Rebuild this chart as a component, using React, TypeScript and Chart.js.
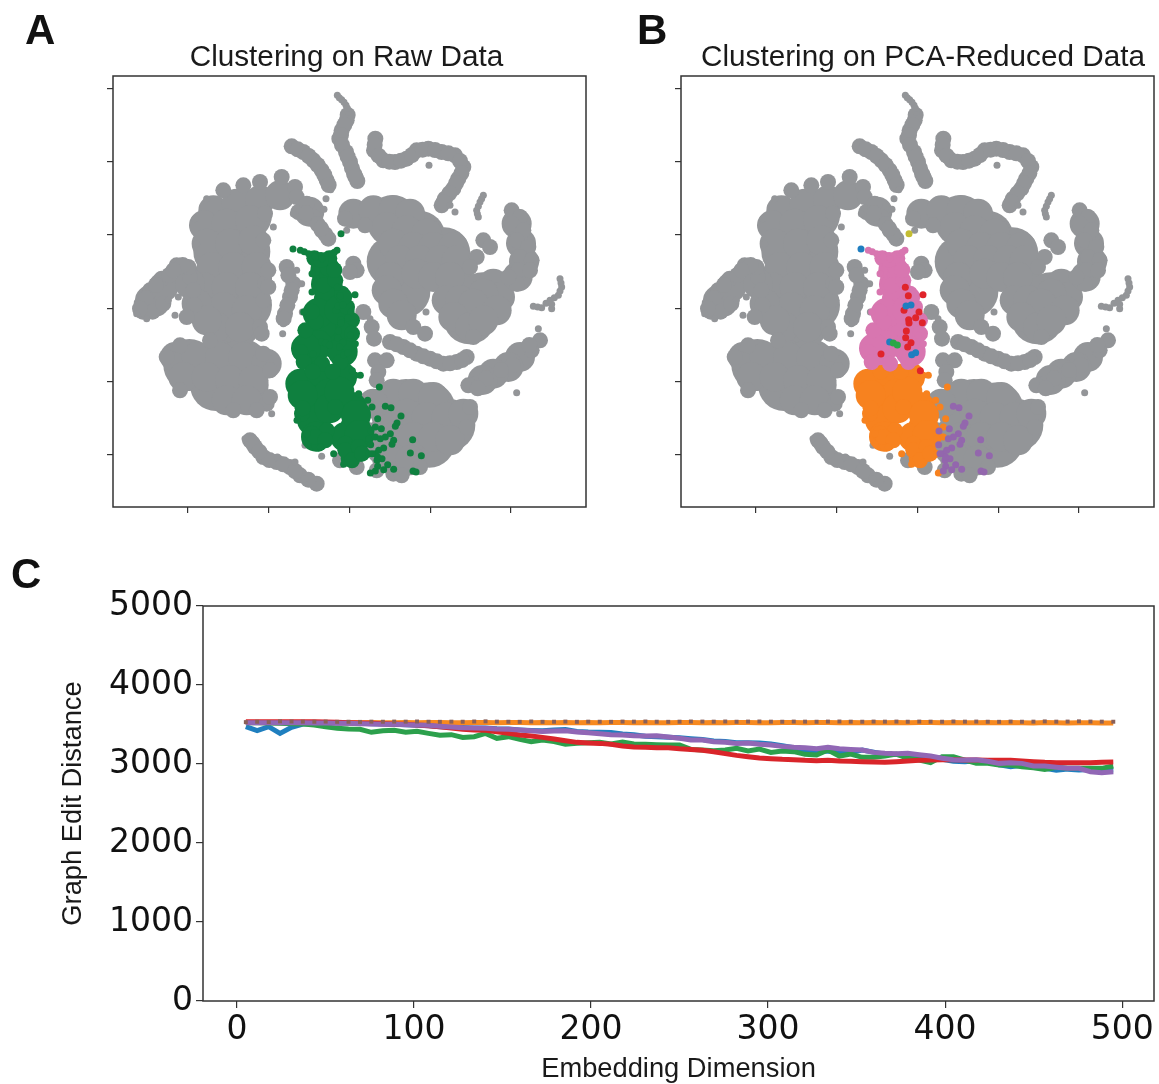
import React, { useEffect, useRef } from "react";
import { Chart, registerables } from "chart.js";

Chart.register(...registerables);

type P = [number, number];

// t-SNE embedding (arbitrary units; the axes have no tick labels)
const GREY_XLARGE: P[] = [
  [-310,280],[-380,250],[-390,170],[-315,170],[-390,90],[-310,90],[-385,10],[-310,10],[-340,-40],
  [-480,-170],[-400,-170],[-320,-170],[-400,-230],[-320,-230],
  [130,262],[210,215],[285,165],[205,140],[130,140],[170,90],[165,50],
  [340,30],[400,30],[360,-30],
  [170,-290],[240,-300],[170,-400],[240,-400],[300,-350],[120,-400],
];
const GREY_LARGE: P[] = [
  [12,284],[72,294],[132,294],[182,284],[112,244],[172,234],[232,224],[132,194],[192,184],[252,184],[312,184],
  [152,144],[212,144],[272,144],[322,144],[122,94],[112,54],[132,14],[157,-21],[202,104],[252,94],[302,94],
  [292,24],[432,74],[452,34],[402,44],[332,24],[372,14],[442,-6],[312,-26],[362,-56],[402,-36],
  [132,-256],[192,-256],[252,-266],[112,-326],[172,-316],[232,-326],[292,-326],[342,-316],[132,-386],[192,-386],
  [252,-386],[302,-396],[112,-446],[182,-456],[52,-386],[72,-286],
  [-408,294],[-338,314],[-268,324],[-208,339],[-436,249],[-368,254],[-298,264],[-428,194],[-358,194],[-288,204],
  [-413,124],[-348,124],[-278,124],[-438,64],[-368,64],[-298,64],[-448,4],[-378,4],[-308,-6],[-398,-56],[-328,-56],
  [-583,19],[-598,24],[-558,64],[-478,74],[-458,14],[-428,-36],
  [-523,-146],[-458,-146],[-388,-146],[-318,-146],[-248,-166],[-498,-206],[-428,-206],[-358,-216],[-288,-216],
  [-368,-276],[-308,-276],
  [512,-146],[477,-176],[432,-196],[400,-215],
  [502,254],[515,195],[524,140],[505,95],
  [-120,290],
];
const GREY_MEDIUM: P[] = [
  [-8,564],[-23,534],[-30,509],[-10,469],[2,439],[14,404],[24,382],
  [-5,580],[-15,550],[-25,520],[-22,490],[-5,455],[8,420],[18,395],
  [-173,486],[-138,469],[-108,444],[-83,414],[-68,384],
  [-155,477],[-122,457],[-95,430],[-75,400],[-62,370],
  [78,509],[74,474],[102,444],[137,439],[172,449],[202,474],[237,479],[277,469],[317,459],[342,424],[327,389],
  [312,359],[287,329],[277,309],
  [76,490],[88,458],[120,440],[155,443],[188,460],[220,476],[257,475],[297,465],[332,442],[336,405],[320,375],[300,345],[282,318],
  [487,294],[512,274],[487,254],[522,234],[502,204],[537,184],[512,154],[547,144],[507,114],[542,114],[502,74],[477,94],
  [572,-96],[547,-126],[382,-226],[357,-231],[540,-110],[490,-170],[455,-185],[410,-210],[385,-240],
  [-13,269],[47,249],[402,204],[422,184],[382,154],[362,124],[192,-56],[227,-76],[372,-86],
  [12,134],[22,114],[2,109],[42,-11],[67,-56],[74,-91],
  [122,-101],[162,-116],[202,-136],[242,-151],[282,-166],[322,-161],[352,-146],
  [142,-108],[182,-126],[222,-144],[262,-159],[302,-165],[338,-155],
  [77,-156],[112,-156],[87,-191],[82,-216],
  [352,-356],[362,-296],[212,-476],[132,-496],[157,-501],[-28,-456],[22,-476],[82,-486],
  [-478,94],[-468,54],[-483,124],[-518,129],[-563,89],[-598,54],[-623,14],
  [-610,30],[-580,70],[-540,100],[-500,130],[-620,-10],[-590,-10],[-465,10],[-628,-1],[-528,114],[-558,14],
  [-378,354],[-318,369],[-268,379],[-203,394],[-163,364],[-158,334],[-253,284],[-253,74],[-258,24],[-268,-56],
  [-243,114],[-243,64],[-258,204],[-488,-26],
  [-153,289],[-128,314],[-108,274],[-83,234],[-63,209],[-130,285],[-95,252],[-72,222],[-85,240],
  [-188,124],[-168,74],[-178,34],[-193,-16],[-183,99],[-173,54],[-186,9],[-197,-31],
  [-258,-136],[-263,-76],[-238,-186],[-248,-286],[-508,-246],[-238,-266],[-278,-306],[-348,-306],[-548,-146],[-418,-96],[-508,-111],
  [-298,-396],[-283,-416],[-258,-446],[-218,-461],[-178,-476],[-148,-501],[-98,-526],
  [-240,-455],[-198,-468],[-163,-488],[-123,-514],[-290,-405],[-270,-430],
];
const GREY_SMALL: P[] = [
  [-36,639],[-23,626],[-10,609],[-3,589],[-56,356],[-70,329],[-76,297],[-30,632],[-16,618],[-6,600],
  [302,309],[317,289],[239,429],[402,339],[392,319],[382,294],[387,274],[397,329],[387,306],[384,284],
  [632,89],[637,64],[627,39],[602,24],[607,-1],[577,2],[552,6],[567,-61],[502,-253],
  [635,76],[632,52],[615,32],[590,15],[565,4],[607,12],
  [-8,234],[230,-11],[62,-31],
  [-428,329],[-463,269],[-458,194],[-228,244],[-638,-16],[-608,-31],[-543,24],[-523,-21],[-513,34],[-168,284],
  [-158,114],[-200,-76],[-198,-46],[-143,74],[-141,-11],[-233,-316],
  [-313,-391],[-216,-446],[-163,-461],[-133,-511],[-83,-444],[-133,-411],
];

const PINK_LARGE: P[] = [
  [-62,24],[-72,-36],[-32,-46],[-92,-96],[-42,-106],[-112,-126],[-70,72],[-52,-30],[-85,-55],[-95,-110],[-130,-120],[-20,-130],
  [-72,114],[-65,65],[-95,-15],[-30,-5],
];
const PINK_MEDIUM: P[] = [
  [-67,139],[-67,99],[-77,69],[-42,84],[-22,44],[-7,4],[8,-36],[-2,-106],[-132,-66],[-147,-131],[-137,-161],[-82,-166],[-27,-161],
  [-65,120],[-60,150],[-45,115],[-105,150],[-85,145],[-100,-40],[-112,-10],[-17,-66],[8,-76],[-15,35],
];
const PINK_SMALL: P[] = [
  [-147,174],[-122,164],[-102,154],[-82,149],[-37,174],[-52,164],[-112,104],[-112,49],[-137,-11],[3,-81],[18,-106],
  [-135,170],[-45,168],
];
const ORANGE_LARGE: P[] = [
  [-147,-226],[-82,-206],[-22,-206],[-102,-276],[-62,-256],[8,-296],[18,-356],[-12,-386],[-112,-336],
  [-140,-260],[-60,-300],[-30,-250],[20,-320],[30,-380],[-100,-385],
];
const ORANGE_MEDIUM: P[] = [
  [-112,-376],[-92,-406],[-67,-366],[-42,-296],[-142,-316],[-12,-406],[-2,-451],[33,-436],[-140,-300],[-110,-190],[-50,-190],
  [-102,-386],[-72,-396],[-12,-426],[28,-416],[8,-456],[38,-436],
];
const ORANGE_SMALL: P[] = [
  [-157,-336],[-127,-376],[58,-436],[-47,-436],[-17,-468],[63,-494],[90,-236],[33,-201],[68,-296],[55,-276],
  [85,-331],[78,-356],[58,-391],[78,-386],[28,-256],[-87,-416],[18,-201],
];
const PURPLE_POINTS: P[] = [
  [108,-294],[125,-298],[155,-323],[143,-344],[138,-354],[96,-361],[65,-368],[123,-376],[108,-386],[93,-391],
  [133,-396],[128,-408],[64,-409],[103,-419],[190,-394],[183,-434],[216,-442],[78,-436],[88,-426],[98,-451],
  [83,-456],[115,-469],[85,-474],[78,-488],[103,-484],[133,-483],[191,-488],[200,-491],[85,-446],[68,-436],
];
const RED_POINTS: P[] = [
  [-36,63],[-27,38],[17,41],[-40,-6],[5,-11],[-5,-28],[-26,-34],[-25,-44],[15,-43],[-33,-68],[-35,-88],[-19,-103],
  [-29,-116],[-109,-137],[9,-187],
];
const BLUE_POINTS: P[] = [[-169,178],[-34,7],[-19,10],[-83,-101],[-17,-139],[-5,-133]];
const GREEN_POINTS: P[] = [[-72,-104],[-60,-110]];
const OLIVE_POINTS: P[] = [[-25,224]];

// Panel C
const DIMENSIONS = [
  5,11.4,17.9,24.3,30.8,37.2,43.7,50.1,56.6,63,69.5,75.9,82.4,88.8,95.3,101.7,108.2,114.6,121.1,127.5,134,140.4,
  146.8,153.3,159.7,166.2,172.6,179.1,185.5,192,198.4,204.9,211.3,217.8,224.2,230.7,237.1,243.6,250,256.4,262.9,
  269.3,275.8,282.2,288.7,295.1,301.6,308,314.5,320.9,327.4,333.8,340.3,346.7,353.2,359.6,366,372.5,378.9,385.4,
  391.8,398.3,404.7,411.2,417.6,424.1,430.5,437,443.4,449.9,456.3,462.8,469.2,475.6,482.1,488.5,495,
];
const SERIES_BLUE = [
  3472,3422,3472,3388,3464,3506,3515,3519,3519,3519,3515,3510,3506,3502,3498,3490,3485,3473,3465,3462,3456,3455,
  3445,3442,3432,3425,3420,3430,3438,3412,3405,3402,3398,3380,3370,3350,3345,3340,3332,3320,3310,3290,3285,3270,
  3270,3265,3252,3230,3205,3170,3165,3160,3155,3145,3178,3150,3125,3120,3110,3100,3090,3060,3035,3030,3040,3028,
  2990,2965,2985,2965,2945,2920,2935,2925,2930,2925,2925,
];
const SERIES_ORANGE = [
  3525,3524,3526,3523,3525,3522,3524,3526,3523,3525,3522,3524,3521,3523,3525,3522,3524,3526,3523,3521,3524,3525,
  3522,3524,3526,3523,3525,3521,3524,3522,3525,3523,3526,3524,3522,3525,3523,3521,3524,3526,3523,3525,3522,3524,
  3526,3523,3521,3524,3525,3522,3524,3526,3523,3525,3521,3524,3522,3525,3523,3526,3524,3522,3525,3523,3521,3524,
  3522,3525,3523,3520,3524,3522,3519,3523,3521,3520,3518,
];
const SERIES_GREEN = [
  3523,3523,3519,3515,3510,3506,3494,3472,3451,3443,3439,3401,3422,3426,3401,3413,3388,3363,3371,3337,3346,3388,
  3325,3346,3312,3283,3304,3283,3249,3261,3270,3274,3253,3278,3253,3249,3245,3240,3240,3185,3177,3169,3177,3198,
  3164,3190,3147,3164,3156,3122,3114,3177,3101,3126,3084,3084,3101,3126,3072,3050,3017,3093,3093,3050,3008,3008,
  2987,2987,2966,2953,2932,2958,2945,2945,2945,2945,2975,
];
const SERIES_RED = [
  3536,3536,3536,3536,3536,3536,3536,3531,3527,3523,3519,3515,3510,3506,3502,3494,3485,3472,3456,3439,3430,3426,
  3409,3388,3367,3354,3337,3316,3295,3274,3266,3261,3249,3228,3215,3211,3207,3207,3194,3185,3173,3156,3131,3109,
  3093,3076,3067,3059,3055,3046,3042,3046,3038,3034,3029,3025,3021,3029,3038,3046,3050,3055,3055,3050,3050,3046,
  3046,3046,3038,3029,3021,3017,3017,3017,3017,3021,3025,
];
const SERIES_PURPLE = [
  3523,3523,3523,3523,3523,3523,3519,3519,3515,3515,3510,3506,3502,3502,3498,3494,3489,3477,3468,3460,3456,3451,
  3443,3439,3430,3422,3413,3418,3422,3405,3396,3384,3371,3367,3358,3354,3358,3342,3325,3304,3304,3283,3274,3261,
  3266,3249,3240,3223,3211,3207,3194,3211,3194,3185,3177,3147,3135,3131,3135,3118,3101,3072,3055,3050,3055,3034,
  3008,3017,3008,2974,2974,2958,2945,2945,2903,2890,2903,
];
const SERIES_BROWN = [
  3530,3535,3531,3540,3538,3536,3535,3537,3534,3535,3533,3536,3535,3537,3536,3538,3535,3534,3536,3535,3538,3540,
  3536,3535,3534,3538,3534,3535,3537,3534,3536,3535,3534,3537,3536,3538,3535,3534,3536,3538,3537,3536,3538,3535,
  3537,3538,3536,3535,3537,3536,3535,3537,3538,3536,3535,3537,3536,3537,3535,3537,3536,3535,3538,3536,3537,3535,
  3534,3537,3535,3536,3539,3536,3537,3540,3537,3536,3535,
];

const SCATTER_X_TICKS = [-484, -242, 0, 243, 485];
const SCATTER_Y_TICKS = [-440, -220, 0, 220, 439, 658];
const LINE_X_TICKS = [0, 100, 200, 300, 400, 500];
const LINE_Y_TICKS = [0, 1000, 2000, 3000, 4000, 5000];

const GREY = "#939598";
const DARK_GREEN = "#0f803f";
const PINK = "#d876b0";
const ORANGE = "#f7821f";
const PURPLE = "#9367ad";
const RED = "#e0242b";
const BLUE = "#1f7ec0";
const GREEN = "#2aa745";
const OLIVE = "#c4bd32";
const FRAME = "#333333";
const SMALL = 3.5, MEDIUM = 8, LARGE = 15, XLARGE = 26;

const framePlugin = {
  id: "frame",
  afterDraw(chart: any) {
    const { ctx, chartArea: a } = chart;
    ctx.save();
    ctx.strokeStyle = FRAME;
    ctx.lineWidth = 1.5;
    ctx.strokeRect(a.left, a.top, a.right - a.left, a.bottom - a.top);
    ctx.restore();
  },
};

const dots = (pts: P[], color: string, radius: number) => ({
  data: pts.map(([x, y]) => ({ x, y })),
  backgroundColor: color,
  borderWidth: 0,
  pointRadius: radius,
  pointBorderWidth: 0,
});

const greyLayers = () => [
  dots(GREY_XLARGE, GREY, XLARGE),
  dots(GREY_LARGE, GREY, LARGE),
  dots(GREY_MEDIUM, GREY, MEDIUM),
  dots(GREY_SMALL, GREY, SMALL),
];

const panelA = () => [
  ...greyLayers(),
  dots(PINK_LARGE, DARK_GREEN, LARGE),
  dots(ORANGE_LARGE, DARK_GREEN, LARGE),
  dots(PINK_MEDIUM, DARK_GREEN, MEDIUM),
  dots(ORANGE_MEDIUM, DARK_GREEN, MEDIUM),
  dots(PINK_SMALL, DARK_GREEN, SMALL),
  dots(ORANGE_SMALL, DARK_GREEN, SMALL),
  dots(PURPLE_POINTS, DARK_GREEN, SMALL),
  dots(RED_POINTS, DARK_GREEN, SMALL),
  dots(BLUE_POINTS, DARK_GREEN, SMALL),
  dots(GREEN_POINTS, DARK_GREEN, SMALL),
  dots(OLIVE_POINTS, DARK_GREEN, SMALL),
];

const panelB = () => [
  ...greyLayers(),
  dots(ORANGE_LARGE, ORANGE, LARGE),
  dots(ORANGE_MEDIUM, ORANGE, MEDIUM),
  dots(ORANGE_SMALL, ORANGE, SMALL),
  dots(PINK_LARGE, PINK, LARGE),
  dots(PINK_MEDIUM, PINK, MEDIUM),
  dots(PINK_SMALL, PINK, SMALL),
  dots(PURPLE_POINTS, PURPLE, SMALL),
  dots(RED_POINTS, RED, SMALL),
  dots(BLUE_POINTS, BLUE, SMALL),
  dots(GREEN_POINTS, GREEN, SMALL),
  dots(OLIVE_POINTS, OLIVE, SMALL),
];

const scatterConfig = (datasets: any[]) => ({
  type: "scatter",
  // Chart.js paints the first dataset last, so the painter's order is reversed here
  data: { datasets: [...datasets].reverse() },
  plugins: [framePlugin],
  options: {
    responsive: false,
    animation: false,
    events: [],
    layout: { autoPadding: false, padding: { left: 17, right: 14, top: 46 } },
    plugins: { legend: { display: false }, tooltip: { enabled: false } },
    scales: {
      x: {
        min: -709,
        max: 710,
        afterBuildTicks: (s: any) => { s.ticks = SCATTER_X_TICKS.map((value) => ({ value })); },
        afterFit: (s: any) => { s.height = 13; },
        ticks: { display: false },
        border: { display: false },
        grid: { drawOnChartArea: false, drawTicks: true, tickLength: 6, color: FRAME, lineWidth: 1.2 },
      },
      y: {
        min: -596,
        max: 697,
        afterBuildTicks: (s: any) => { s.ticks = SCATTER_Y_TICKS.map((value) => ({ value })); },
        afterFit: (s: any) => { s.width = 6; },
        ticks: { display: false },
        border: { display: false },
        grid: { drawOnChartArea: false, drawTicks: true, tickLength: 6, color: FRAME, lineWidth: 1.2 },
      },
    },
  },
});

const lineDs = (label: string, values: number[], color: string) => ({
  label,
  data: values.map((y, i) => ({ x: DIMENSIONS[i], y })),
  borderColor: color,
  backgroundColor: color,
  borderWidth: 5,
  pointRadius: 0,
  tension: 0,
});

const lineConfig = () => ({
  type: "line",
  data: {
    datasets: [
      lineDs("blue", SERIES_BLUE, "#1f7fbf"),
      lineDs("orange", SERIES_ORANGE, "#f7891f"),
      lineDs("green", SERIES_GREEN, "#2ca04c"),
      lineDs("red", SERIES_RED, "#d9252a"),
      lineDs("purple", SERIES_PURPLE, "#9167b5"),
      {
        label: "brown",
        data: SERIES_BROWN.map((y, i) => ({ x: DIMENSIONS[i], y })),
        showLine: false,
        pointStyle: "rect",
        pointRadius: 2.8,
        pointBorderWidth: 0,
        backgroundColor: "#8a6058",
      },
    ].reverse(),
  },
  plugins: [framePlugin],
  options: {
    responsive: false,
    animation: false,
    events: [],
    layout: { autoPadding: false, padding: { top: 26, right: 5 } },
    plugins: { legend: { display: false }, tooltip: { enabled: false } },
    scales: {
      x: {
        type: "linear",
        min: -19.2,
        max: 518,
        afterBuildTicks: (s: any) => { s.ticks = LINE_X_TICKS.map((value) => ({ value })); },
        afterFit: (s: any) => { s.height = 83; },
        border: { display: false },
        grid: { drawOnChartArea: false, drawTicks: true, tickLength: 7, color: FRAME, lineWidth: 1.2 },
        ticks: { color: "#111", font: { family: "DejaVu Sans", size: 33 }, maxRotation: 0, padding: 3, callback: (v: any) => String(v) },
        title: {
          display: true,
          text: "Embedding Dimension",
          color: "#1a1a1a",
          font: { family: "Liberation Sans", size: 27.3, lineHeight: 1.1 },
          padding: { top: 0, bottom: 0 },
        },
      },
      y: {
        min: 0,
        max: 5000,
        afterBuildTicks: (s: any) => { s.ticks = LINE_Y_TICKS.map((value) => ({ value })); },
        afterFit: (s: any) => { s.width = 163; },
        border: { display: false },
        grid: { drawOnChartArea: false, drawTicks: true, tickLength: 7, color: FRAME, lineWidth: 1.2 },
        ticks: { color: "#111", font: { family: "DejaVu Sans", size: 33 }, padding: 3, callback: (v: any) => String(v) },
        title: {
          display: true,
          text: "Graph Edit Distance",
          color: "#1a1a1a",
          font: { family: "Liberation Sans", size: 27.3, lineHeight: 1.1 },
          padding: { top: 18, bottom: 0 },
        },
      },
    },
  },
});

function Canvas({ config, style, width, height }: any) {
  const ref = useRef<HTMLCanvasElement>(null);
  useEffect(() => {
    const chart = new Chart(ref.current as any, config());
    return () => chart.destroy();
  }, []);
  return <canvas ref={ref} width={width} height={height} style={{ position: "absolute", display: "block", ...style }} />;
}

const letter = (text: string, left: number, top: number) => (
  <div
    style={{
      position: "absolute",
      left,
      top,
      fontFamily: "Liberation Sans",
      fontWeight: "bold",
      fontSize: 42,
      lineHeight: "42px",
      color: "#111",
    }}
  >
    {text}
  </div>
);

const panelTitle = (text: string, centre: number) => (
  <div
    style={{
      position: "absolute",
      left: centre - 300,
      width: 600,
      top: 41,
      textAlign: "center",
      fontFamily: "Liberation Sans",
      fontSize: 29.7,
      lineHeight: "30px",
      color: "#1a1a1a",
    }}
  >
    {text}
  </div>
);

export default function App() {
  return (
    <div style={{ position: "absolute", left: 0, top: 0, width: 1159, height: 1084, overflow: "hidden", background: "#fff" }}>
      <Canvas config={() => scatterConfig(panelA())} width={510} height={490} style={{ left: 90, top: 30 }} />
      <Canvas config={() => scatterConfig(panelB())} width={510} height={490} style={{ left: 658, top: 30 }} />
      <Canvas config={lineConfig} width={1119} height={504} style={{ left: 40, top: 580 }} />
      {panelTitle("Clustering on Raw Data", 346.5)}
      {panelTitle("Clustering on PCA-Reduced Data", 923)}
      {letter("A", 25, 9)}
      {letter("B", 637, 9)}
      {letter("C", 11, 553)}
    </div>
  );
}
